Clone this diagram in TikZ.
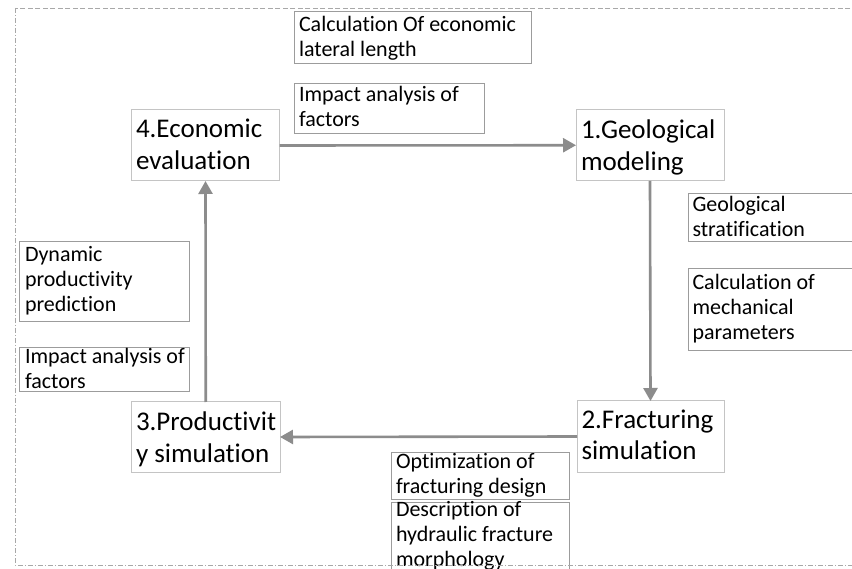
\documentclass[tikz,border=0pt]{standalone}
\usepackage{fontspec}
\setmainfont{Carlito}[Ligatures={NoCommon}]
\usetikzlibrary{arrows.meta}
\definecolor{mainbd}{HTML}{C4C4C4}
\definecolor{smallbd}{HTML}{9C9C9C}
\definecolor{arrowc}{HTML}{8C8C8C}
\definecolor{framec}{HTML}{A8A8A8}
\tikzset{
  mbox/.style={draw=mainbd, line width=1pt, rectangle, inner sep=0pt, outer sep=0pt, fill=white, anchor=north west},
  sbox/.style={draw=smallbd, line width=1pt, rectangle, inner sep=0pt, outer sep=0pt, fill=white, anchor=north west},
  bigtxt/.style={inner sep=0pt, outer sep=0pt, align=left, anchor=north west, font=\fontsize{27}{32}\selectfont},
  smalltxt/.style={inner sep=0pt, outer sep=0pt, align=left, anchor=north west, font=\fontsize{22}{25}\selectfont},
  flow/.style={draw=arrowc, line width=2.6pt, -{Triangle[length=13pt,width=14pt]}},
  frameline/.style={draw=framec, line width=0.8pt, dash pattern=on 5pt off 2.5pt},
}
\newcommand\bigbx[8]{%
  \node[mbox, minimum width={(#4-#2)*1pt}, minimum height={(#5-#3)*1pt}] (#1) at (#2,#3) {};
  \node[bigtxt] (#1t) at ({#2+#6},{#7-26}) {\rule{0pt}{26pt}#8};}
\newcommand\smallbx[8]{%
  \node[sbox, minimum width={(#4-#2)*1pt}, minimum height={(#5-#3)*1pt}] (#1) at (#2,#3) {};
  \node[smalltxt] (#1t) at ({#2+#6},{#7-20}) {\rule{0pt}{20pt}#8};}
\begin{document}
\begin{tikzpicture}[x=1pt, y=-1pt]
\useasboundingbox (0,0) rectangle (852,569);
\clip (0,0) rectangle (852,569);
\fill[white] (0,0) rectangle (852,569);
% main boxes
\bigbx{eco}{131.5}{110}{279.5}{181}{4.5}{137.5}{4.Economic\\evaluation}
\bigbx{geo}{576}{109.5}{724}{181}{5}{139}{1.Geological\\modeling}
\bigbx{prod}{131.5}{402}{280}{472}{4.5}{430}{3.Productivit\\y simulation}
\bigbx{frac}{577}{401}{724}{472}{4.5}{428}{2.Fracturing\\simulation}
% small boxes
\smallbx{calc}{294}{12}{531.5}{64}{5}{31.7}{Calculation Of economic\\lateral length}
\smallbx{impa}{294}{84}{484}{134}{5}{101.7}{Impact analysis of\\factors}
\smallbx{strat}{688}{194}{880}{242}{4.5}{211.5}{Geological\\stratification}
\smallbx{mech}{688}{269}{880}{351}{4.5}{289.5}{Calculation of\\mechanical\\parameters}
\smallbx{dyn}{19}{242}{189}{322}{6}{261.5}{Dynamic\\productivity\\prediction}
\smallbx{impb}{19}{348}{189}{392}{6}{363.5}{Impact analysis of\\factors}
\smallbx{opt}{391}{452}{569}{499}{5}{468.3}{Optimization of\\fracturing design}
\smallbx{desc}{391}{502}{569}{600}{5}{516.2}{Description of\\hydraulic fracture\\morphology}
% connectors
\draw[flow] (eco.east) -- (geo.west);
\draw[flow] (geo.south) -- (frac.north);
\draw[flow] (frac.west) -- (prod.east);
\draw[flow] (prod.north) -- (eco.south);
% dashed frame
\draw[frameline] (880,8) -- (15,8);
\draw[frameline, dash pattern=on 5pt off 2pt on 1pt off 2pt] (15,8) -- (15,565) -- (880,565);
\end{tikzpicture}
\end{document}
